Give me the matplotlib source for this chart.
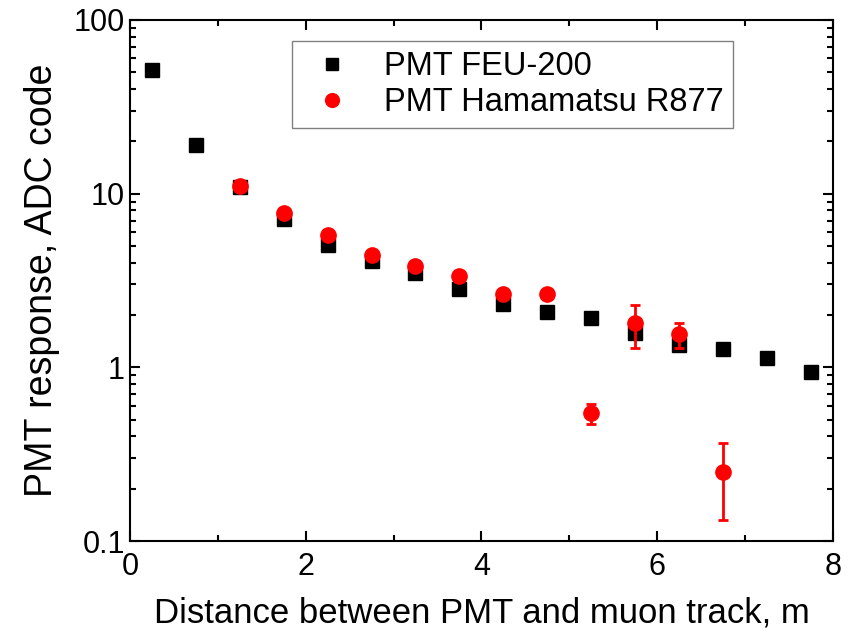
import matplotlib.pyplot as plt
from matplotlib.ticker import LogLocator, NullFormatter, MultipleLocator

plt.rcParams['font.family'] = ['Liberation Sans', 'DejaVu Sans']

# --- data ---
feu_x = [0.25, 0.75, 1.25, 1.75, 2.25, 2.75, 3.25, 3.75, 4.25, 4.75, 5.25, 5.75, 6.25, 6.75, 7.25, 7.75]
feu_y = [51.5, 19.0, 10.9, 7.1, 5.04, 4.09, 3.51, 2.83, 2.30, 2.09, 1.93, 1.58, 1.35, 1.28, 1.13, 0.94]
feu_err = [3.0, 1.0, 0.5, 0.35, 0.25, 0.2, 0.17, 0.14, 0.12, 0.1, 0.1, 0.09, 0.08, 0.07, 0.06, 0.05]

ham_x = [1.25, 1.75, 2.25, 2.75, 3.25, 3.75, 4.25, 4.75, 5.25, 5.75, 6.25, 6.75]
ham_y = [11.0, 7.78, 5.78, 4.41, 3.83, 3.35, 2.65, 2.66, 0.546, 1.79, 1.55, 0.251]
ham_err = [0.4, 0.3, 0.25, 0.2, 0.17, 0.15, 0.13, 0.13, 0.072, 0.5, 0.26, 0.118]

ytick_vals = [0.1, 1, 10, 100]
ytick_labels = ['0.1', '1', '10', '100']
xtick_vals = [0, 2, 4, 6, 8]

fig = plt.figure(figsize=(8.49, 6.33), dpi=100)
ax = fig.add_axes([0.153, 0.1453, 0.828, 0.8232])

# error bars (no legend), then markers with labels
ax.errorbar(feu_x, feu_y, yerr=feu_err, fmt='none', ecolor='black', elinewidth=1.5, capsize=0)
ax.plot(feu_x, feu_y, 's', color='black', markersize=10, label='PMT FEU-200')
ax.errorbar(ham_x, ham_y, yerr=ham_err, fmt='none', ecolor='red', elinewidth=2, capsize=3.5, capthick=2)
ax.plot(ham_x, ham_y, 'o', color='red', markersize=11, label='PMT Hamamatsu R877')

ax.set_yscale('log')
ax.set_xlim(0, 8)
ax.set_ylim(0.1, 100)
ax.set_xticks(xtick_vals)
ax.xaxis.set_minor_locator(MultipleLocator(1))
ax.set_yticks(ytick_vals, labels=ytick_labels)
ax.yaxis.set_minor_locator(LogLocator(base=10, subs=range(2, 10)))
ax.yaxis.set_minor_formatter(NullFormatter())

ax.tick_params(which='both', direction='in', top=True, right=True, width=1.5, labelsize=22)
ax.tick_params(which='major', length=7)
ax.tick_params(which='minor', length=4)
ax.tick_params(axis='x', pad=8)
for s in ax.spines.values():
    s.set_linewidth(1.5)

ax.set_xlabel('Distance between PMT and muon track, m', fontsize=25, labelpad=10)
ax.set_ylabel('PMT response, ADC code', fontsize=27, labelpad=10)

leg = ax.legend(loc='upper left', bbox_to_anchor=(0.208, 0.99), fontsize=23.5,
                frameon=True, fancybox=False, edgecolor='gray', framealpha=1,
                borderpad=0.3, handletextpad=0.7, labelspacing=0.15, markerscale=0.9,
                handlelength=1.8)
leg.get_frame().set_linewidth(1)

fig.savefig('out.png', dpi=100)
